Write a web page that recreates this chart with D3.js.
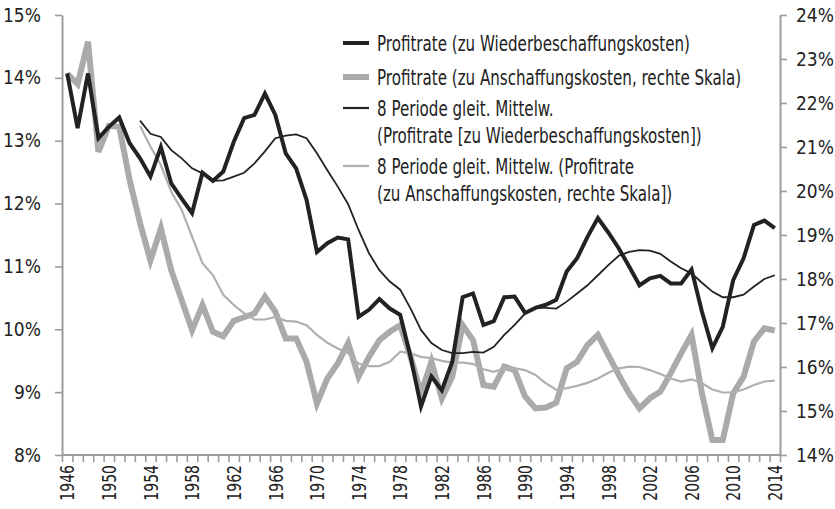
<!DOCTYPE html>
<html>
<head>
<meta charset="utf-8">
<script src="https://cdn.jsdelivr.net/npm/d3@7"></script>
<style>
  body { margin: 0; background: #fff; }
  text { font-family: "Liberation Sans Narrow", "DejaVu Sans Condensed", sans-serif; fill: #222; }
</style>
</head>
<body>
<div id="chart"></div>
<script>
// years 1946..2014
var years = d3.range(1946, 2015);

// Profitrate (zu Wiederbeschaffungskosten), left axis, %
var wiederRate = [14.07, 13.20, 14.07, 13.04, 13.22, 13.37, 12.96, 12.72, 12.43, 12.90,
  12.32, 12.08, 11.85, 12.49, 12.36, 12.51, 12.98, 13.36, 13.41, 13.75,
  13.41, 12.80, 12.56, 12.06, 11.23, 11.37, 11.46, 11.43, 10.20, 10.31,
  10.48, 10.33, 10.23, 9.56, 8.77, 9.25, 9.03, 9.48, 10.51, 10.57,
  10.07, 10.13, 10.51, 10.52, 10.26, 10.34, 10.39, 10.47, 10.92, 11.13,
  11.47, 11.77, 11.54, 11.29, 11.00, 10.70, 10.81, 10.85, 10.73, 10.73,
  10.95, 10.28, 9.70, 10.04, 10.78, 11.13, 11.66, 11.73, 11.61];

// Profitrate (zu Anschaffungskosten), right axis, %
var anschRate = [22.67, 22.43, 23.39, 20.89, 21.48, 21.46, 20.25, 19.27, 18.42, 19.15,
  18.20, 17.52, 16.84, 17.41, 16.80, 16.70, 17.05, 17.13, 17.22, 17.60,
  17.26, 16.65, 16.65, 16.12, 15.17, 15.74, 16.08, 16.54, 15.78, 16.23,
  16.61, 16.80, 16.95, 16.23, 15.40, 16.12, 15.29, 15.78, 16.95, 16.61,
  15.59, 15.55, 16.01, 15.93, 15.33, 15.06, 15.08, 15.19, 15.97, 16.12,
  16.50, 16.73, 16.27, 15.82, 15.40, 15.06, 15.29, 15.44, 15.86, 16.31,
  16.73, 15.40, 14.34, 14.34, 15.40, 15.78, 16.58, 16.88, 16.83];

// 8 Perioden gleitender Mittelwert, ab 1953
var wiederMA = [null, null, null, null, null, null, null, 13.32, 13.11, 13.06,
  12.85, 12.72, 12.56, 12.48, 12.36, 12.37, 12.43, 12.49, 12.64, 12.83,
  13.04, 13.08, 13.10, 13.04, 12.80, 12.53, 12.27, 11.99, 11.58, 11.21,
  10.94, 10.76, 10.63, 10.33, 9.99, 9.78, 9.67, 9.62, 9.62, 9.64,
  9.63, 9.72, 9.91, 10.07, 10.25, 10.34, 10.34, 10.33, 10.44, 10.57,
  10.70, 10.86, 11.02, 11.17, 11.23, 11.26, 11.25, 11.20, 11.08, 10.97,
  10.89, 10.74, 10.60, 10.51, 10.51, 10.55, 10.68, 10.80, 10.86];

var anschMA = [null, null, null, null, null, null, null, 21.48, 21.01, 20.59,
  19.98, 19.57, 18.96, 18.36, 18.09, 17.64, 17.41, 17.22, 17.08, 17.08,
  17.14, 17.05, 17.03, 16.95, 16.73, 16.55, 16.42, 16.31, 16.08, 16.02,
  16.02, 16.12, 16.35, 16.31, 16.23, 16.20, 16.14, 16.10, 16.10, 16.07,
  15.95, 15.89, 15.97, 15.97, 15.93, 15.82, 15.63, 15.48, 15.52, 15.57,
  15.64, 15.74, 15.87, 15.97, 16.01, 16.00, 15.93, 15.84, 15.74, 15.67,
  15.72, 15.63, 15.49, 15.42, 15.42, 15.49, 15.59, 15.67, 15.69];

var leftTicks = [8, 9, 10, 11, 12, 13, 14, 15];
var rightTicks = [14, 15, 16, 17, 18, 19, 20, 21, 22, 23, 24];
var yearLabels = d3.range(1946, 2015, 4);

var legendLabels = [
  ["Profitrate (zu Wiederbeschaffungskosten)"],
  ["Profitrate (zu Anschaffungskosten, rechte Skala)"],
  ["8 Periode gleit. Mittelw.", "(Profitrate [zu Wiederbeschaffungskosten])"],
  ["8 Periode gleit. Mittelw. (Profitrate", "(zu Anschaffungskosten, rechte Skala])"]
];

var width = 835, height = 509;
var plotL = 62, plotR = 780, plotT = 15, plotB = 455;
var axisColor = "#9c9c9c";

var svg = d3.select("#chart").append("svg")
  .attr("width", width)
  .attr("height", height);

var x = d3.scaleLinear().domain([1945.5, 2014.5]).range([plotL, plotR]);
var yL = d3.scaleLinear().domain([8, 15]).range([plotB, plotT]);
var yR = d3.scaleLinear().domain([14, 24]).range([plotB, plotT]);

// axes
var gx = svg.append("g").attr("transform", "translate(0," + plotB + ")")
  .call(d3.axisBottom(x).tickValues(d3.range(1945.5, 2015, 1)).tickSize(7).tickFormat(""));
var gl = svg.append("g").attr("transform", "translate(" + plotL + ",0)")
  .call(d3.axisLeft(yL).tickValues(leftTicks).tickSize(7).tickSizeOuter(0).tickPadding(14)
    .tickFormat(function(d) { return d + "%"; }));
var gr = svg.append("g").attr("transform", "translate(" + plotR + ",0)")
  .call(d3.axisRight(yR).tickValues(rightTicks).tickSize(7).tickSizeOuter(0).tickPadding(9)
    .tickFormat(function(d) { return d + "%"; }));

[gx, gl, gr].forEach(function(g) {
  g.selectAll("path.domain").attr("stroke", axisColor).attr("stroke-width", 2);
  g.selectAll(".tick line").attr("stroke", axisColor).attr("stroke-width", 1.6);
  g.selectAll("text").style("font-size", "19px").attr("fill", "#222")
    .style("font-family", "'Liberation Sans Narrow', 'DejaVu Sans Condensed', sans-serif");
});
gx.select("path.domain").attr("d", "M" + plotL + ",0H" + plotR);

// rotated year labels (squeezed along the text direction)
svg.append("g").selectAll("text")
  .data(yearLabels)
  .enter().append("text")
    .attr("transform", function(d) { return "translate(" + x(d) + "," + (plotB + 10) + ") rotate(-90) scale(0.78,1)"; })
    .attr("text-anchor", "end")
    .attr("dy", "0.36em")
    .style("font-size", "20px")
    .text(function(d) { return d; });

// lines
var series = [
  { values: anschRate, scale: yR, color: "#aaaaaa", w: 6 },
  { values: anschMA, scale: yR, color: "#b0b0b0", w: 2.2 },
  { values: wiederMA, scale: yL, color: "#222222", w: 1.8 },
  { values: wiederRate, scale: yL, color: "#222222", w: 4 }
];

series.forEach(function(s) {
  var line = d3.line()
    .defined(function(d) { return d != null; })
    .x(function(d, i) { return x(years[i]); })
    .y(function(d) { return s.scale(d); });
  svg.append("path")
    .datum(s.values)
    .attr("fill", "none")
    .attr("stroke", s.color)
    .attr("stroke-width", s.w)
    .attr("stroke-linejoin", "miter")
    .attr("d", line);
});

// legend
var legendStyle = [
  { color: "#222222", w: 4, y: 43 },
  { color: "#aaaaaa", w: 6, y: 77 },
  { color: "#222222", w: 2.2, y: 108 },
  { color: "#b0b0b0", w: 2.2, y: 166 }
];
var lg = svg.append("g");
legendLabels.forEach(function(lines, i) {
  var st = legendStyle[i];
  lg.append("line")
    .attr("x1", 343).attr("x2", 369)
    .attr("y1", st.y).attr("y2", st.y)
    .attr("stroke", st.color).attr("stroke-width", st.w);
  lines.forEach(function(l, j) {
    lg.append("text")
      .attr("transform", "translate(377," + (st.y + j * 27) + ") scale(0.8,1)")
      .attr("dy", "0.36em")
      .style("font-size", "21px")
      .text(l);
  });
});
</script>
</body>
</html>
